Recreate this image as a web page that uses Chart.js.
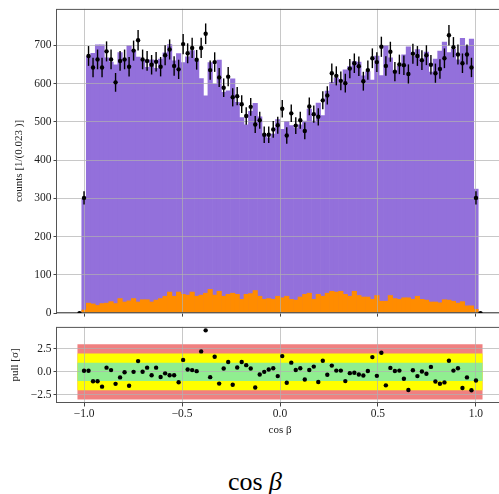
<!DOCTYPE html>
<html>
<head>
<meta charset="utf-8">
<script src="https://cdn.jsdelivr.net/npm/chart.js@4.4.1/dist/chart.umd.min.js"></script>
<style>
  html, body { margin: 0; padding: 0; background: #fff; overflow: hidden; width: 499px; height: 494px; }
  #top { position: absolute; left: 0; top: 0; }
  #pull { position: absolute; left: 0; top: 318px; }
  #xname { position: absolute; left: 155px; top: 469px; width: 200px; text-align: center;
           font: 26px/26px "Liberation Serif", serif; color: #000; }
</style>
</head>
<body>
<canvas id="top" width="510" height="322"></canvas>
<canvas id="pull" width="510" height="122"></canvas>
<div id="xname">cos <i>β</i></div>
<script>
// 90 bins of width 0.023 on [-1.035, 1.035]
const binLow = -1.035;
const binWidth = 0.023;

const dataCounts = [
  0, 301, 672, 642, 663, 642, 684, 663, 603, 659,
  663, 644, 686, 713, 663, 659, 649, 657, 644, 674,
  689, 646, 637, 703, 679, 693, 662, 693, 730, 635,
  656, 616, 589, 618, 564, 567, 546, 515, 539, 493,
  504, 466, 466, 480, 491, 534, 464, 522, 490, 504,
  476, 540, 520, 513, 556, 569, 627, 620, 607, 601,
  639, 653, 645, 606, 635, 666, 656, 696, 646, 683,
  631, 650, 648, 625, 678, 672, 661, 674, 649, 627,
  638, 666, 726, 695, 676, 653, 676, 642, 301, 0
];

// stacked template total (purple top edge)
const modelTotal = [
  0, 298, 672, 679, 701, 701, 667, 656, 649, 681,
  664, 699, 686, 669, 662, 642, 662, 640, 664, 680,
  702, 659, 678, 655, 670, 686, 659, 613, 568, 655,
  598, 661, 577, 581, 612, 551, 511, 492, 527, 548,
  513, 466, 458, 468, 506, 480, 501, 490, 483, 492,
  502, 533, 502, 549, 516, 580, 603, 615, 602, 636,
  644, 657, 656, 620, 631, 609, 672, 621, 700, 667,
  627, 645, 675, 696, 671, 689, 660, 682, 630, 664,
  685, 708, 681, 690, 662, 718, 698, 716, 324, 0
];

// orange component
const background = [
  0, 8, 26, 24, 20, 25, 26, 30, 25, 38,
  29, 32, 38, 29, 35, 35, 29, 34, 38, 44,
  55, 44, 55, 49, 47, 55, 44, 47, 52, 62,
  47, 57, 44, 49, 52, 49, 36, 49, 51, 59,
  44, 36, 38, 36, 44, 40, 44, 36, 34, 42,
  49, 52, 36, 49, 44, 52, 57, 55, 57, 49,
  44, 57, 46, 42, 42, 36, 46, 31, 31, 46,
  38, 36, 40, 40, 36, 44, 36, 34, 29, 29,
  27, 35, 34, 31, 26, 30, 19, 19, 10, 0
];

const pulls = [
  null, 0.12, 0.12, -1.02, -1.02, -1.6, 0.46, 0.19, -1.3, -0.6,
  -0.04, -1.5, 0, 1.17, 0.02, 0.46, -0.36, 0.46, -0.55, -0.16,
  -0.36, -0.36, -1.12, 1.3, 0.25, 0.19, 0.08, 2.22, 4.5, -0.57,
  1.64, -1.27, 0.36, 1.07, -1.4, 0.48, 1.07, 0.73, 0.36, -1.7,
  -0.29, 0, 0.25, 0.39, -0.46, 1.71, -1.18, 1.0, 0.21, 0.39,
  -0.82, 0.21, 0.57, -1.1, 1.21, -0.32, 0.68, 0.14, 0.14, -1.0,
  -0.14, -0.1, -0.29, -0.39, 0.1, 1.6, -0.43, 2.07, -1.46, 0.43,
  0.1, 0.14, -0.75, -1.96, 0.18, -0.46, 0.04, -0.21, 0.54, -1.04,
  -1.29, -1.14, 1.21, 0.14, 0.39, -1.75, -0.6, -2.0, -0.93, null
];

const xTicks = [-1, -0.5, 0, 0.5, 1];
const xTickLabels = ['−1.0', '−0.5', '0.0', '0.5', '1.0'];
const countTicks = [0, 100, 200, 300, 400, 500, 600, 700];
const pullTicks = [-2.5, 0, 2.5];
const pullTickLabels = ['−2.5', '0.0', '2.5'];
const bandSigmas = [3, 2, 1];
const bandColors = ['#f08080', '#ffff00', '#90ee90'];

const centers = dataCounts.map((_, i) => binLow + (i + 0.5) * binWidth);
const binHigh = binLow + dataCounts.length * binWidth;

Chart.defaults.font.family = '"Liberation Serif", serif';
Chart.defaults.color = '#222';

const gridColor = 'rgba(176,176,176,0.7)';
const tickFont = { size: 11.5 };

// frame + points/error bars drawn above the grid
const overlay = {
  id: 'overlay',
  beforeDatasetDraw(chart, args) {
    if (chart.data.datasets[args.index].onTop) return false;
  },
  afterDraw(chart) {
    const ctx = chart.ctx, a = chart.chartArea;
    ctx.save();
    ctx.strokeStyle = '#555';
    ctx.lineWidth = 1;
    ctx.strokeRect(a.left - 0.5, a.top + 0.5, a.right - a.left, a.bottom - a.top - 1);
    ctx.restore();
    chart.data.datasets.forEach((ds, i) => {
      if (!ds.onTop) return;
      const meta = chart.getDatasetMeta(i);
      const ys = chart.scales.y;
      ctx.save();
      ctx.beginPath();
      ctx.rect(a.left, a.top, a.right - a.left, a.bottom - a.top);
      ctx.clip();
      if (ds.errors) {
        ctx.strokeStyle = '#000';
        ctx.lineWidth = 1.4;
        meta.data.forEach((pt, j) => {
          const v = ds.data[j].y, e = ds.errors[j];
          ctx.beginPath();
          ctx.moveTo(pt.x, ys.getPixelForValue(v - e));
          ctx.lineTo(pt.x, ys.getPixelForValue(v + e));
          ctx.stroke();
        });
      }
      meta.controller.draw();
      ctx.restore();
    });
  }
};

function xAxis(showLabels, height) {
  return {
    type: 'linear', min: -1.1385, max: 1.1385, offset: false,
    afterBuildTicks: s => { s.ticks = xTicks.map(v => ({ value: v })); },
    afterFit: s => { s.height = height; },
    grid: { color: gridColor, offset: false, z: 1, drawTicks: true, tickLength: 3.5, tickColor: '#444' },
    border: { display: false },
    ticks: { display: showLabels, autoSkip: false, maxRotation: 0, padding: 1, font: tickFont,
             callback: (v, i) => xTickLabels[i] },
    title: { display: showLabels, text: 'cos β', font: { size: 11 }, padding: { top: 0, bottom: 3.4 } }
  };
}

function yAxis(min, max, ticks, labels, title, titlePad) {
  return {
    type: 'linear', min: min, max: max,
    afterBuildTicks: s => { s.ticks = ticks.map(v => ({ value: v })); },
    afterFit: s => { s.width = 57; },
    grid: { color: gridColor, z: 1, drawTicks: true, tickLength: 3.5, tickColor: '#444' },
    border: { display: false },
    ticks: { autoSkip: false, padding: 2, font: tickFont, callback: (v, i) => labels[i] },
    title: { display: true, text: title, font: { size: 11 }, padding: { top: titlePad, bottom: 0 } }
  };
}

new Chart(document.getElementById('top'), {
  type: 'scatter',
  data: {
    datasets: [
      {
        type: 'scatter', label: 'data', onTop: true, order: 0,
        data: centers.map((x, i) => ({ x: x, y: dataCounts[i] })),
        errors: dataCounts.map(v => Math.sqrt(v)),
        pointRadius: 2.2, backgroundColor: '#000', borderWidth: 0
      },
      {
        type: 'bar', label: 'background', order: 1,
        data: centers.map((x, i) => ({ x: x, y: background[i] })),
        backgroundColor: '#ff8c00', grouped: false, barPercentage: 1, categoryPercentage: 1
      },
      {
        type: 'bar', label: 'total', order: 2,
        data: centers.map((x, i) => ({ x: x, y: modelTotal[i] })),
        backgroundColor: '#9370db', grouped: false, barPercentage: 1, categoryPercentage: 1
      }
    ]
  },
  options: {
    responsive: false, animation: false, events: [],
    layout: { padding: { left: 0, right: 7, top: 7, bottom: 0 } },
    plugins: { legend: { display: false }, tooltip: { enabled: false } },
    scales: {
      x: xAxis(false, 6),
      y: yAxis(0, 795, countTicks, countTicks.map(String), 'counts [1/(0.023 )]', 12.9)
    }
  },
  plugins: [overlay]
});

const bandSets = bandSigmas.map((s, i) => ({
  type: 'line', label: s + ' sigma', order: bandSigmas.length - i + 1,
  data: [{ x: binLow, y: s }, { x: binHigh, y: s }],
  fill: { value: -s }, backgroundColor: bandColors[i],
  borderColor: 'transparent', borderWidth: 0, pointRadius: 0
}));

new Chart(document.getElementById('pull'), {
  type: 'scatter',
  data: {
    datasets: [
      {
        type: 'scatter', label: 'pull', onTop: true, order: 0,
        data: centers.map((x, i) => ({ x: x, y: pulls[i] })),
        pointRadius: 2.2, backgroundColor: '#000', borderWidth: 0
      }
    ].concat(bandSets)
  },
  options: {
    responsive: false, animation: false, events: [],
    layout: { padding: { left: 0, right: 7, top: 7, bottom: 0 } },
    plugins: { legend: { display: false }, tooltip: { enabled: false } },
    scales: {
      x: xAxis(true, 37),
      y: yAxis(-3.375, 4.875, pullTicks, pullTickLabels, 'pull [σ]', 8.4)
    }
  },
  plugins: [overlay]
});
</script>
</body>
</html>
